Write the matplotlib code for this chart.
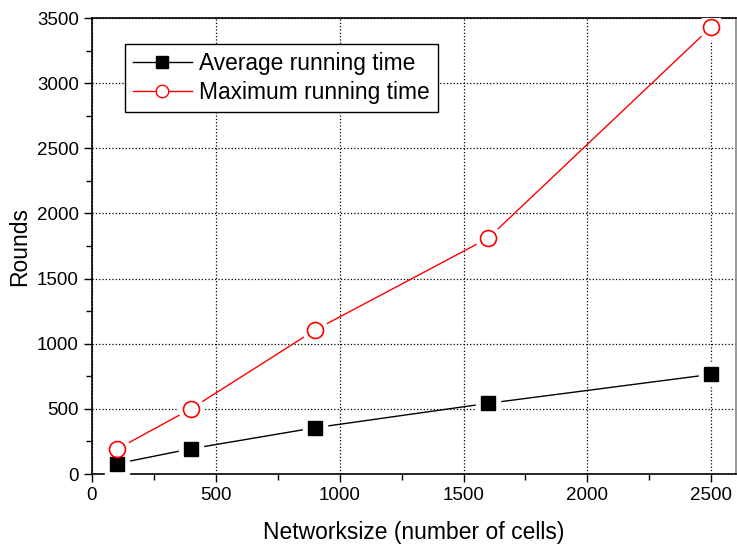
import matplotlib.pyplot as plt
from matplotlib.ticker import MultipleLocator

plt.rcParams['font.family'] = ['Liberation Sans', 'DejaVu Sans']

sizes = [100, 400, 900, 1600, 2500]
avg_time = [79, 194, 355, 543, 765]
max_time = [190, 501, 1105, 1811, 3431]

fig = plt.figure(figsize=(7.37, 5.48), dpi=100)
ax = fig.add_axes([0.1248, 0.135, 0.8738, 0.832])

# lines, then a white halo marker so the line stops short of each symbol
ax.plot(sizes, avg_time, color='black', lw=1, zorder=2)
ax.plot(sizes, max_time, color='red', lw=1, zorder=2)
ax.plot(sizes, avg_time, ls='none', marker='s', ms=17, mfc='white', mec='white', zorder=3)
ax.plot(sizes, max_time, ls='none', marker='o', ms=18, mfc='white', mec='white', zorder=3)
ax.plot(sizes, avg_time, ls='none', marker='s', ms=10, mfc='black', mec='black', zorder=4)
ax.plot(sizes, max_time, ls='none', marker='o', ms=11.5, mfc='white', mec='red', mew=1.2, zorder=4)

# legend proxies
h1, = ax.plot([], [], color='black', lw=1, marker='s', ms=8, mfc='black', mec='black')
h2, = ax.plot([], [], color='red', lw=1, marker='o', ms=9, mfc='white', mec='red')
leg = ax.legend([h1, h2], ['Average running time', 'Maximum running time'],
                loc='upper left', bbox_to_anchor=(0.051, 0.943), fontsize=16.4,
                fancybox=False, framealpha=1, edgecolor='black',
                handlelength=2.6, handletextpad=0.3, borderpad=0.35,
                labelspacing=0.25, borderaxespad=0)
leg.get_frame().set_linewidth(1)

ax.set_xlim(0, 2600)
ax.set_ylim(0, 3500)
ax.xaxis.set_major_locator(MultipleLocator(500))
ax.xaxis.set_minor_locator(MultipleLocator(250))
ax.yaxis.set_major_locator(MultipleLocator(500))
ax.yaxis.set_minor_locator(MultipleLocator(250))
ax.grid(True, which='major', ls=':', color='black', lw=0.9)

ax.tick_params(which='both', direction='out', labelsize=13.5, width=1)
ax.tick_params(which='major', length=6)
ax.tick_params(which='minor', length=4)
for s in ax.spines.values():
    s.set_linewidth(1.2)
ax.spines['right'].set_color('#888888')

ax.set_xlabel('Networksize (number of cells)', fontsize=16.5, labelpad=12)
ax.set_ylabel('Rounds', fontsize=16.5, labelpad=4)

fig.savefig('out.png', dpi=100)
